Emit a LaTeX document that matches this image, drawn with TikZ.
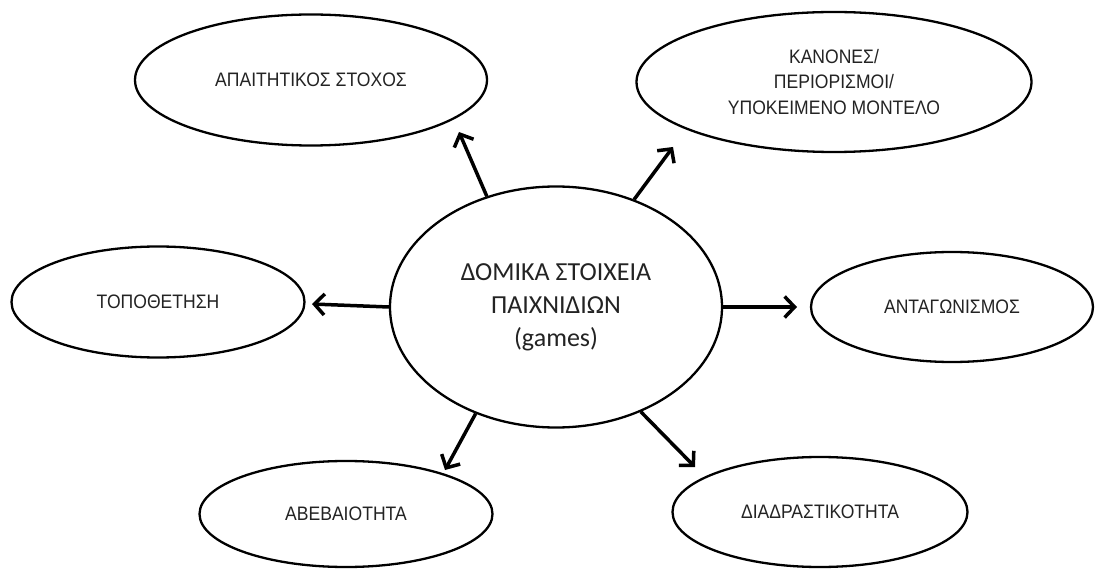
\documentclass[tikz,border=0pt]{standalone}
\usepackage{fontspec}
\setmainfont{Liberation Sans}
\newfontfamily\outerfont[FakeStretch=0.9]{Liberation Sans}
\newfontfamily\calib{Carlito}
\usetikzlibrary{shapes.geometric,arrows.meta}
\definecolor{txt}{RGB}{35,35,35}
\begin{document}
\begin{tikzpicture}[x=1pt,y=-1pt,
  bub/.style={draw, line width=2.3pt, ellipse, inner sep=0pt, align=center,
    font=\outerfont\fontsize{19.5}{25.5}\selectfont, text=txt},
  hub/.style={bub, font=\calib\fontsize{26}{33}\selectfont},
  arr/.style={line width=3.5pt, -{Straight Barb[length=10pt,width=21pt]}}]
\path[use as bounding box, fill=white] (0,0) rectangle (1095,569);
\node[hub, minimum width=332pt, minimum height=241pt] (c) at (556,307) {ΔΟΜΙΚΑ ΣΤΟΙΧΕΙΑ\\ΠΑΙΧΝΙΔΙΩΝ\\(games)};
\node[bub, minimum width=352pt, minimum height=131pt] (tl) at (311,80) {ΑΠΑΙΤΗΤΙΚΟΣ ΣΤΟΧΟΣ};
\node[bub, minimum width=395pt, minimum height=140pt] (tr) at (834,82) {ΚΑΝΟΝΕΣ/\\ΠΕΡΙΟΡΙΣΜΟΙ/\\ΥΠΟΚΕΙΜΕΝΟ ΜΟΝΤΕΛΟ};
\node[bub, minimum width=293pt, minimum height=111pt] (l) at (158,302) {ΤΟΠΟΘΕΤΗΣΗ};
\node[bub, minimum width=282pt, minimum height=110pt] (r) at (952,307) {ΑΝΤΑΓΩΝΙΣΜΟΣ};
\node[bub, minimum width=293pt, minimum height=106pt] (bl) at (346,514) {ΑΒΕΒΑΙΟΤΗΤΑ};
\node[bub, minimum width=295pt, minimum height=110pt] (br) at (820,512) {ΔΙΑΔΡΑΣΤΙΚΟΤΗΤΑ};
\coordinate (tTL) at (459,132);
\coordinate (tTR) at (673,147);
\coordinate (tL) at (312,304);
\coordinate (tR) at (797,307);
\coordinate (tBL) at (445,470);
\coordinate (tBR) at (695,467);
\draw[arr] (c.122.6) -- (tTL);
\draw[arr] (c.54.8) -- (tTR);
\draw[arr] (c.180) -- (tL);
\draw[arr] (c.0) -- (tR);
\draw[arr] (c.233.8) -- (tBL);
\draw[arr] (c.309.2) -- (tBR);
\end{tikzpicture}
\end{document}
